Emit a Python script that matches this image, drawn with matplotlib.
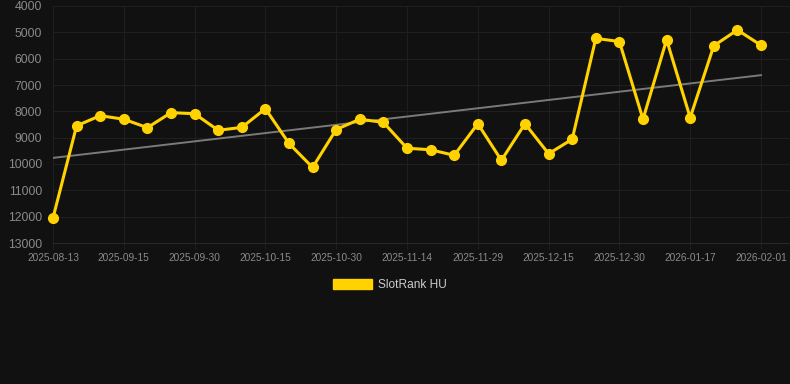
import matplotlib
matplotlib.use("Agg")
import matplotlib.pyplot as plt
import numpy as np
from matplotlib.patches import Patch

dates = ["2025-08-13", "2025-08-24", "2025-09-04", "2025-09-15", "2025-09-20", "2025-09-25",
         "2025-09-30", "2025-10-05", "2025-10-10", "2025-10-15", "2025-10-20", "2025-10-25",
         "2025-10-30", "2025-11-04", "2025-11-09", "2025-11-14", "2025-11-19", "2025-11-24",
         "2025-11-29", "2025-12-04", "2025-12-09", "2025-12-15", "2025-12-20", "2025-12-25",
         "2025-12-30", "2026-01-05", "2026-01-11", "2026-01-17", "2026-01-22", "2026-01-27",
         "2026-02-01"]
rank = [12050, 8550, 8165, 8300, 8620, 8050, 8090, 8720, 8610, 7900, 9220, 10130,
        8690, 8300, 8420, 9400, 9460, 9670, 8470, 9860, 8470, 9610, 9060, 5230,
        5350, 8300, 5280, 8240, 5510, 4910, 5490]
series_name = "SlotRank HU"
yticks = [4000, 5000, 6000, 7000, 8000, 9000, 10000, 11000, 12000, 13000]

bg = "#111111"
gold = "#FFD200"
plt.rcParams['font.family'] = ['Liberation Sans', 'DejaVu Sans']

fig = plt.figure(figsize=(7.9, 3.84), dpi=100, facecolor=bg)
W, H = 790, 384
ax = fig.add_axes([53 / W, 1 - 243 / H, (790 - 53) / W, (243 - 6) / H], facecolor=bg)

x = np.arange(len(rank))
n = len(rank)
ax.set_xlim(0, (n - 1) * (790 - 53) / (761 - 53))
ax.set_ylim(13000, 4000)

# trend line (linear fit)
coef = np.polyfit(x, rank, 1)
ax.plot([x[0], x[-1]], np.polyval(coef, [x[0], x[-1]]), color="#7a7a7a", lw=1.4, zorder=2)

ax.plot(x, rank, color=gold, lw=2.2, marker="o", ms=7, zorder=3, clip_on=False)

ax.set_yticks(yticks)
ax.set_yticklabels([str(v) for v in yticks])
tick_idx = list(range(0, n, 3))
ax.set_xticks(tick_idx)
ax.set_xticklabels([dates[i] for i in tick_idx])

ax.grid(True, color="#1f1f1f", lw=0.8)
ax.set_axisbelow(True)
for s in ax.spines.values():
    s.set_visible(False)
ax.spines["bottom"].set_visible(True)
ax.spines["bottom"].set_color("#272727")
ax.spines["bottom"].set_linewidth(0.8)
ax.tick_params(axis="y", length=0, pad=8, labelsize=8.8, labelcolor="#8a8a8a")
ax.tick_params(axis="x", length=4, color="#1f1f1f", pad=3, labelsize=7.3, labelcolor="#8a8a8a")

leg = fig.legend(handles=[Patch(facecolor=gold, edgecolor=gold)], labels=[series_name],
                 loc="center", bbox_to_anchor=(390 / W, 1 - 285 / H), frameon=False,
                 handlelength=3.3, handleheight=1.0, handletextpad=0.5, fontsize=8.6,
                 labelcolor="#cccccc")

fig.savefig("out.png", dpi=100, facecolor=bg)
